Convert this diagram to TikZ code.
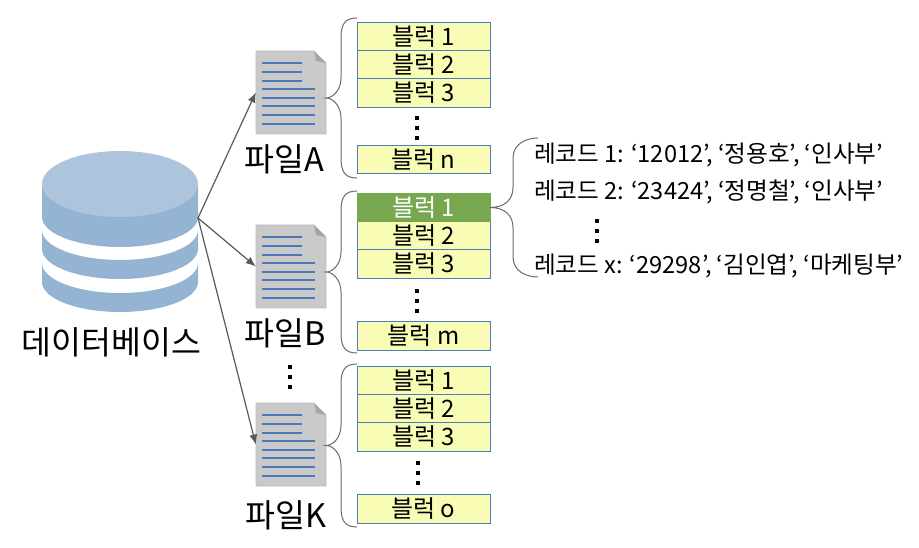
\documentclass[tikz,border=0pt]{standalone}
\usepackage{fontspec}
\setmainfont{Noto Sans CJK KR}
\usetikzlibrary{arrows.meta}
\definecolor{dbDark}{HTML}{95B3D2}
\definecolor{dbTop}{HTML}{ADC5DC}
\definecolor{fileFill}{HTML}{C9C9C9}
\definecolor{fileEdge}{HTML}{BDBDBD}
\definecolor{foldFill}{HTML}{A6A6A6}
\definecolor{lineBlue}{HTML}{4A78B8}
\definecolor{blockFill}{HTML}{F9FCB4}
\definecolor{blockEdge}{HTML}{4A7EBB}
\definecolor{greenFill}{HTML}{77A850}
\definecolor{braceGray}{HTML}{6B6B6B}
\definecolor{arrowGray}{HTML}{595959}
\tikzset{
  x=1pt,y=-1pt,
  blockbox/.style={draw=blockEdge,line width=1pt,fill=blockFill,minimum width=133pt,minimum height=28.4pt,inner sep=0pt,font=\fontsize{24}{26}\selectfont},
  greenbox/.style={blockbox,draw=greenFill,fill=greenFill,text=white},
  brace/.style={draw=braceGray,line width=1pt},
  arr/.style={draw=arrowGray,line width=1.2pt,-{Latex[length=10pt,width=8pt]}},
  biglabel/.style={font=\fontsize{32.5}{34}\selectfont,inner sep=0pt},
  reclabel/.style={font=\fontsize{23.6}{25}\selectfont,inner sep=0pt,anchor=west},
  dotmark/.style={fill=black,inner sep=0pt,minimum size=4pt},
  fileframe/.style={minimum width=70pt,minimum height=83pt,inner sep=0pt},
}
\newcommand{\dotstack}[3]{%
  \node[dotmark] (#1a) at (#2,#3) {};
  \node[dotmark] (#1b) at (#2,#3+10) {};
  \node[dotmark] (#1c) at (#2,#3+20) {};
}
\newcommand{\filedoc}[2]{% name, top y
  \fill[fileFill,draw=fileEdge,line width=.6pt] (256,#2) -- (314,#2) -- (326,#2+12) -- (326,#2+83) -- (256,#2+83) -- cycle;
  \fill[foldFill] (314,#2) -- (326,#2+12) -- (316,#2+10) -- cycle;
  \foreach \dy/\xe in {12/302,21/302,30/302,38/315,47/315,55/315,64/315,73/315}{
    \draw[lineBlue,line width=2pt] (262,#2+\dy) -- (\xe,#2+\dy);
  }
  \node[fileframe] (#1) at (291,#2+41.5) {};
}
% tip x, tip y, half-height, spine x, end x
\newcommand{\curly}[5]{%
  \draw[brace] (#5,#2-#3) .. controls (#5-12,#2-#3) and (#4,#2-#3+6) .. (#4,#2-#3+20)
    -- (#4,#2-20) .. controls (#4,#2-8) and (#4-8,#2) .. (#1,#2)
    .. controls (#4-8,#2) and (#4,#2+8) .. (#4,#2+20)
    -- (#4,#2+#3-20) .. controls (#4,#2+#3-6) and (#5-12,#2+#3) .. (#5,#2+#3);
}
% database band: lower half-ellipse edges at y #1 and #2
\newcommand{\dbband}[2]{%
  \fill[dbDark] (42,#1) .. controls (42,#1+16.6) and (76.9,#1+30) .. (120,#1+30)
    .. controls (163.1,#1+30) and (198,#1+16.6) .. (198,#1)
    -- (198,#2) .. controls (198,#2+16.6) and (163.1,#2+30) .. (120,#2+30)
    .. controls (76.9,#2+30) and (42,#2+16.6) .. (42,#2) -- cycle;
}
\begin{document}
\begin{tikzpicture}
\useasboundingbox (0,0) rectangle (919,548);
% database
\dbband{263}{282}
\dbband{230}{249}
\dbband{184}{217}
\fill[dbTop] (120,184) ellipse[x radius=78,y radius=33];
\node[inner sep=0pt,minimum width=156pt,minimum height=161pt] (db) at (120,231.5) {};
\node[biglabel] (dbl) at (111.5,342) {데이터베이스};
% files
\filedoc{fileA}{51}
\filedoc{fileB}{225}
\filedoc{fileK}{403}
\node[biglabel] (la) at (284,159) {파일A};
\node[biglabel] (lb) at (285,333) {파일B};
\node[biglabel] (lk) at (286,515) {파일K};
\coordinate (dbr) at (198,218);
\draw[arr] (dbr) -- (fileA.west);
\draw[arr] (dbr) -- (fileB.west);
\draw[arr] (dbr) -- (fileK.west);
\dotstack{df}{289.5}{367}
% blocks A
\node[blockbox] (a1) at (423.5,36.7) {블럭 1};
\node[blockbox] (a2) at (423.5,65) {블럭 2};
\node[blockbox] (a3) at (423.5,93) {블럭 3};
\dotstack{da}{417}{118}
\node[blockbox] (an) at (423.5,159.7) {블럭 n};
% blocks B
\node[blockbox] (b2) at (423.5,236) {블럭 2};
\node[blockbox] (b3) at (423.5,264) {블럭 3};
\node[greenbox] (b1) at (423.5,207.5) {블럭 1};
\dotstack{db}{417}{291}
\node[blockbox] (bm) at (423.5,336) {블럭 m};
% blocks K
\node[blockbox] (k1) at (423.5,381) {블럭 1};
\node[blockbox] (k2) at (423.5,409) {블럭 2};
\node[blockbox] (k3) at (423.5,437) {블럭 3};
\dotstack{dk}{417.5}{463}
\node[blockbox] (ko) at (423.5,509) {블럭 o};
% braces
\curly{326}{98}{80}{341}{357}
\curly{326}{272}{81}{341}{357}
\curly{326}{445.5}{81.5}{341}{357}
\curly{490}{207.5}{69.5}{513}{538}
% records
\node[reclabel] (r1) at (534,155) {레코드 1: ‘12012’, ‘정용호’, ‘인사부’};
\node[reclabel] (r2) at (534,192) {레코드 2: ‘23424’, ‘정명철’, ‘인사부’};
\dotstack{dr}{597}{221}
\node[reclabel] (rx) at (534,266) {레코드 x: ‘29298’, ‘김인엽’, ‘마케팅부’};
\end{tikzpicture}
\end{document}
